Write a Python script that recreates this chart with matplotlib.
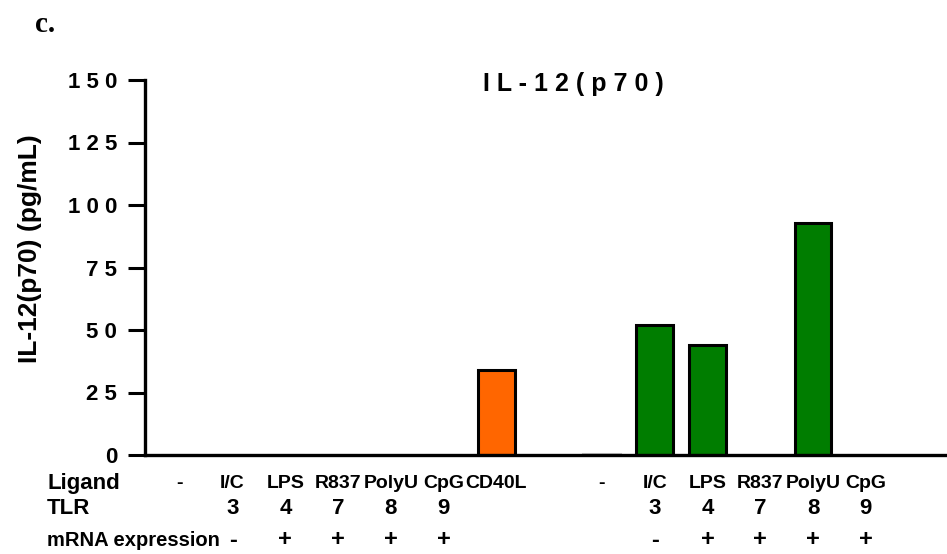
import matplotlib.pyplot as plt
import matplotlib.transforms as mtransforms

plt.rcParams['font.family'] = ['Liberation Sans', 'DejaVu Sans']
plt.rcParams['font.weight'] = 'bold'

# data
positions = [0, 1, 2, 3, 4, 5, 6, 8, 9, 10, 11, 12, 13]
ligands = ['-', 'I/C', 'LPS', 'R837', 'PolyU', 'CpG', 'CD40L',
           '-', 'I/C', 'LPS', 'R837', 'PolyU', 'CpG']
tlrs = ['', '3', '4', '7', '8', '9', '', '', '3', '4', '7', '8', '9']
mrna = ['', '-', '+', '+', '+', '+', '', '', '-', '+', '+', '+', '+']
values = [0, 0, 0, 0, 0, 0, 34, 0.4, 52, 44, 0.2, 93, 0]
group = ['a'] * 6 + ['cd40'] + ['b'] * 6

yticks = [0, 25, 50, 75, 100, 125, 150]
ytick_labels = ['0', '2 5', '5 0', '7 5', '1 0 0', '1 2 5', '1 5 0']

fill = {'a': 'white', 'cd40': '#ff6600', 'b': '#007d00'}
colors = [fill[g] for g in group]
edges = ['black' if v > 1 else '#c8c8c8' for v in values]

fig = plt.figure(figsize=(9.47, 5.54), dpi=100)
ax = fig.add_axes([145 / 947, 1 - 455 / 554, 1 - 145 / 947, 375 / 554])

ax.bar(positions, values, width=0.7, color=colors, edgecolor=edges, linewidth=2.2, zorder=2)

ax.set_xlim(-0.66, 14.54)
ax.set_ylim(0, 150)
ax.set_yticks(yticks)
ax.set_yticklabels(ytick_labels, fontsize=16, fontweight='bold')
ax.set_xticks([])
ax.tick_params(axis='y', length=12, width=2.2, pad=8)
for s in ['top', 'right']:
    ax.spines[s].set_visible(False)
for s in ['left', 'bottom']:
    ax.spines[s].set_linewidth(2.4)
    ax.spines[s].set_zorder(3)

ax.set_ylabel('IL-12(p70) (pg/mL)', fontsize=19, fontweight='bold', labelpad=10)
ax.yaxis.set_label_coords(-0.128, 0.55)

fig.text(573 / 947, 1 - 84 / 554, 'I L - 1 2 ( p 7 0 )', fontsize=18, fontweight='bold',
         ha='center', va='center')
fig.text(35 / 947, 1 - 25 / 554, 'c.', fontsize=21, fontweight='bold',
         family='Liberation Serif', ha='left', va='center')

# table of labels under the bars
tr = mtransforms.blended_transform_factory(ax.transData, fig.transFigure)
row_y = {'Ligand': 1 - 483 / 554, 'TLR': 1 - 509 / 554, 'mRNA expression': 1 - 540 / 554}
row_fs = {'Ligand': 16, 'TLR': 16, 'mRNA expression': 14.5}
for name, y in row_y.items():
    fig.text(47 / 947, y, name, fontsize=row_fs[name], fontweight='bold', ha='left', va='center')
for p, lig, t, m in zip(positions, ligands, tlrs, mrna):
    ax.text(p, row_y['Ligand'], lig, transform=tr, fontsize=14, fontweight='bold',
            ha='center', va='center')
    ax.text(p, row_y['TLR'], t, transform=tr, fontsize=16, fontweight='bold',
            ha='center', va='center')
    ax.text(p, row_y['mRNA expression'], m, transform=tr, fontsize=17, fontweight='bold',
            ha='center', va='center')

fig.savefig('out.png', dpi=100)
